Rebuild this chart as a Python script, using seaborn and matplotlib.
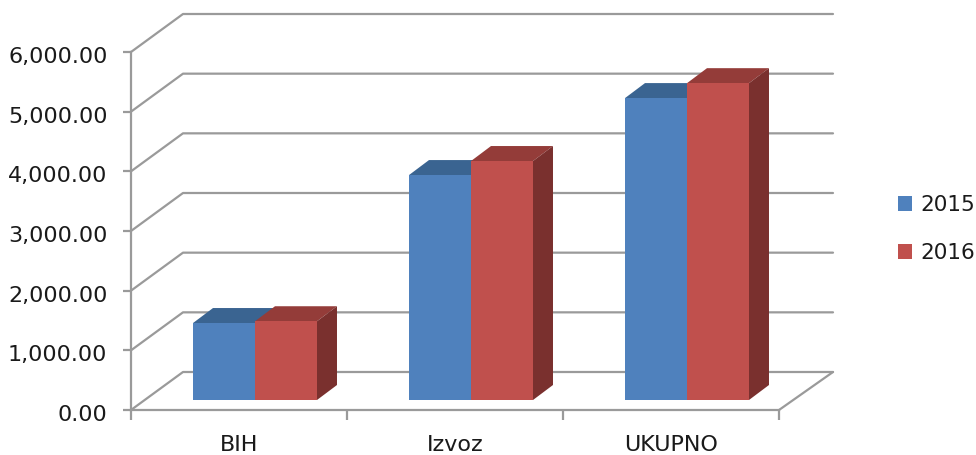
import matplotlib
matplotlib.use('Agg')
import pandas as pd
import matplotlib.pyplot as plt
import seaborn as sns
from matplotlib.patches import Polygon
from matplotlib.transforms import ScaledTranslation

categories = ['BIH', 'Izvoz', 'UKUPNO']
values_2015 = [1290, 3770, 5060]
values_2016 = [1320, 4005, 5310]
years = ['2015', '2016']
tick_vals = [0, 1000, 2000, 3000, 4000, 5000, 6000]

colors = {'2015': '#4F81BD', '2016': '#C0504D'}
tops = {'2015': '#3A6491', '2016': '#943C39'}
sides = {'2015': '#2F5380', '2016': '#7A302E'}
grey = '#9A9A9A'

df = pd.DataFrame({
    'cat': categories * 2,
    'val': values_2015 + values_2016,
    'year': ['2015'] * 3 + ['2016'] * 3,
})

sns.set_style('white')
fig = plt.figure(figsize=(9.76, 4.55), dpi=100)
# front plane of the fake 3d box, in pixels: x 131-779, y 52-410
ax = fig.add_axes([131 / 976, 1 - 410 / 455, 648 / 976, 358 / 455])

sns.barplot(data=df, x='cat', y='val', hue='year', order=categories, hue_order=years,
            palette=colors, width=0.574, gap=0, saturation=1, linewidth=0, ax=ax, zorder=3)

ax.set_xlim(-0.5, 2.5)
ax.set_ylim(0, 6000)

# px to data units
px_x = 3 / 648
px_y = 6000 / 358

# walls and floor
back_x = 52 * px_x
back_y = 38 * px_y
xl, xr = -0.5, 2.5
for v in tick_vals:
    ax.plot([xl, xl + back_x, xr + 54 * px_x], [v, v + back_y, v + back_y],
            color=grey, lw=1.6, clip_on=False, zorder=1)
ax.plot([xr + 54 * px_x, xr], [back_y, 0], color=grey, lw=1.6, clip_on=False, zorder=1)

# bars sit in the middle of the floor, then get top and side faces
shift_x = 16 * px_x
lift = 10 * px_y
depth_x = 20 * px_x
depth_y = 15 * px_y
year_bars = [ax.containers[0], ax.containers[1]]
for year, cont in zip(years, year_bars):
    for bar in cont:
        bar.set_x(bar.get_x() + shift_x)
        bar.set_y(lift)
        bar.set_clip_on(False)
        x0, x1 = bar.get_x(), bar.get_x() + bar.get_width()
        y0, y1 = lift, lift + bar.get_height()
        ax.add_patch(Polygon([(x0, y1), (x1, y1), (x1 + depth_x, y1 + depth_y), (x0 + depth_x, y1 + depth_y)],
                             fc=tops[year], ec='none', clip_on=False, zorder=2.5))
        ax.add_patch(Polygon([(x1, y0), (x1 + depth_x, y0 + depth_y), (x1 + depth_x, y1 + depth_y), (x1, y1)],
                             fc=sides[year], ec='none', clip_on=False, zorder=2.5))

for s in ['top', 'right']:
    ax.spines[s].set_visible(False)
for s in ['left', 'bottom']:
    ax.spines[s].set_color(grey)
    ax.spines[s].set_linewidth(1.6)

ax.set_xlabel('')
ax.set_ylabel('')
ax.set_yticks(tick_vals)
ax.set_yticklabels(['{:,.2f}'.format(v) for v in tick_vals], fontsize=16, color='#1A1A1A')
ax.set_xticks([-0.5, 0.5, 1.5, 2.5], minor=True)
ax.set_xticks([0, 1, 2])
ax.set_xticklabels(categories, fontsize=16, color='#1A1A1A')
ax.tick_params(axis='x', which='major', length=0, pad=18)
ax.tick_params(axis='x', which='minor', length=7, width=1.6, color=grey, bottom=True)
ax.tick_params(axis='y', length=6, width=1.6, color=grey, left=True, pad=11)

# labels sit a little under their ticks in the original
for lab in ax.get_yticklabels():
    lab.set_transform(lab.get_transform() + ScaledTranslation(0, -3 / 100, fig.dpi_scale_trans))

handles, labels = ax.get_legend_handles_labels()
ax.legend_.remove()
fig.legend(handles, labels, loc='center left', bbox_to_anchor=(898 / 976, 1 - 229 / 455),
           frameon=False, fontsize=15.5, handlelength=0.65, handleheight=0.65, handletextpad=0.38,
           labelspacing=1.3, borderpad=0, borderaxespad=0, labelcolor='#1A1A1A')

fig.savefig('out.png', dpi=100)
